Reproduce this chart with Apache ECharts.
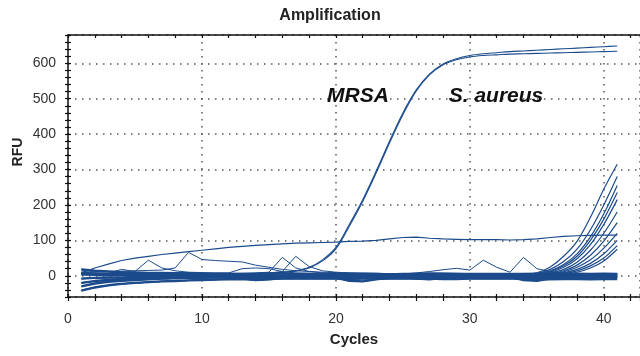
<!DOCTYPE html>
<html>
<head>
<meta charset="utf-8">
<script src="https://cdn.jsdelivr.net/npm/echarts@6/dist/echarts.min.js"></script>
<style>
  html, body { margin: 0; padding: 0; background: #fff; }
  #chart { width: 640px; height: 356px; }
</style>
</head>
<body>
<div id="chart"></div>
<script>
// cycle numbers (x)
var cycles = [1,2,3,4,5,6,7,8,9,10,11,12,13,14,15,16,17,18,19,20,21,22,23,24,25,26,27,28,29,30,31,32,33,34,35,36,37,38,39,40,41];

// MRSA replicates (sigmoid)
var mrsaA = [10,8,7,6,6,5,5,5,5,5,5,6,6,7,8,10,14,24,45,80,145,215,295,380,460,525,570,598,613,622,627,630,633,635,637,639,641,643,645,647,649];
var mrsaB = [8,7,6,5,5,5,4,4,5,5,5,5,6,6,7,9,13,22,42,76,140,210,290,375,455,522,568,596,610,618,622,624,626,627,628,629,630,631,632,633,634];

// slowly drifting curve near 100
var drift = [8,22,33,43,50,55,60,64,68,72,76,80,83,86,88,90,92,93,94,95,97,98,100,104,108,109,106,104,103,102,102,102,101,102,104,108,111,113,114,115,115];

// noisy curves with spikes
var spike1 = [14,12,12,13,14,15,16,22,66,46,43,41,39,30,24,18,14,12,10,9,8,8,7,6,6,7,8,8,7,6,6,5,5,5,6,5,5,6,5,5,5];
var spike2 = [10,8,7,18,12,44,22,14,10,9,8,8,20,22,20,12,8,7,6,6,5,5,4,4,4,5,5,4,4,4,4,4,3,3,4,4,3,3,4,3,3];
var spike3 = [6,5,5,5,5,5,5,5,6,6,6,6,7,8,10,52,22,12,8,6,5,5,5,5,5,5,6,6,6,5,5,5,5,5,5,5,5,5,5,5,5];
var spike4 = [4,4,4,4,4,4,4,4,4,5,5,5,5,6,8,12,55,26,14,10,8,6,5,5,5,5,5,5,5,5,5,5,5,5,5,5,5,5,5,5,5];
var spike5 = [2,2,2,2,2,2,2,2,2,2,2,2,2,2,2,2,2,2,2,2,2,3,3,4,5,8,12,17,21,16,44,24,10,52,20,12,8,6,5,5,5];

// flat negative / baseline curves (the thick band)
var base1 = [18,14,12,10,9,8,8,7,7,6,6,6,5,5,6,6,5,5,5,6,5,5,5,4,5,5,6,5,5,5,5,5,5,5,6,5,5,6,5,6,5];
var base2 = [5,3,2,2,1,1,1,0,0,0,1,1,0,0,1,0,0,1,1,0,0,1,0,0,0,1,0,0,1,0,0,0,0,0,0,1,0,0,1,0,0];
var base3 = [-8,-6,-5,-5,-4,-4,-3,-3,-3,-2,-2,-2,-2,-1,-1,-1,-1,-1,-2,-2,-1,-1,-1,-2,-2,-1,-1,-2,-2,-2,-1,-1,-1,-2,-2,-3,-2,-2,-3,-2,-2];
var base4 = [-20,-15,-12,-10,-9,-8,-7,-6,-6,-5,-5,-5,-4,-4,-4,-4,-3,-3,-3,-4,-4,-4,-3,-3,-4,-4,-4,-3,-3,-3,-3,-3,-3,-4,-4,-5,-4,-4,-5,-4,-4];
var base5 = [-42,-33,-27,-23,-20,-18,-16,-15,-13,-12,-11,-10,-10,-9,-9,-8,-8,-8,-8,-8,-9,-8,-8,-8,-8,-8,-8,-9,-9,-8,-8,-8,-8,-9,-9,-10,-9,-9,-10,-9,-9];
var base6 = [-30,-22,-17,-14,-12,-10,-8,-7,-6,-5,-4,-3,-8,-12,-10,-6,-4,-3,-2,-6,-14,-16,-10,-6,-3,-8,-10,-6,-3,-2,-3,-2,-2,-12,-14,-8,-4,-3,-3,-3,-3];

// S. aureus late rise, cycles 34..41
var saTail1 = [3,8,25,55,97,165,245,315];
var saTail2 = [2,6,18,40,75,130,200,280];
var saTail3 = [2,5,14,32,62,110,175,255];
var saTail4 = [1,4,12,28,55,100,160,235];
var saTail5 = [1,3,10,24,48,88,145,215];
var saTail6 = [0,3,8,18,38,72,120,180];
var saTail7 = [0,2,6,14,30,58,98,150];
var saTail8 = [0,2,5,11,24,45,78,120];
var saTail9 = [0,1,3,8,18,35,62,100];
var saTail10 = [0,0,2,6,14,28,50,85];
var saTail11 = [0,0,1,4,10,22,42,75];

var lineColor = '#1c4b8c';

var chart = {
    instance : null,

    init : function () {
        chart.instance = echarts.init(document.getElementById('chart'), null, {renderer: 'canvas'});
        chart.instance.setOption(chart.buildOption());
    },

    pairs : function (values) {
        var res = [];
        for (var i = 0; i < values.length; i++) {
            res.push([cycles[i], values[i]]);
        }
        return res;
    },

    lineSeries : function (values, width, smooth) {
        return {
            type: 'line',
            data: chart.pairs(values),
            showSymbol: false,
            symbol: 'none',
            silent: true,
            smooth: smooth || false,
            lineStyle: { color: lineColor, width: width || 1.2 }
        };
    },

    buildSeries : function () {
        var series = [];
        var bases = [base1, base2, base3, base4, base5, base6];
        var tails = [saTail1, saTail2, saTail3, saTail4, saTail5, saTail6, saTail7, saTail8, saTail9, saTail10, saTail11];
        // baseline band
        for (var i = 0; i < bases.length; i++) {
            series.push(chart.lineSeries(bases[i], 2.4));
        }
        // S. aureus curves (flat start + late rise)
        for (var j = 0; j < tails.length; j++) {
            var early = bases[j % bases.length].slice(0, 33);
            series.push(chart.lineSeries(early.concat(tails[j]), 1.2, 0.3));
        }
        series.push(chart.lineSeries(spike1, 1));
        series.push(chart.lineSeries(spike2, 1));
        series.push(chart.lineSeries(spike3, 1));
        series.push(chart.lineSeries(spike4, 1));
        series.push(chart.lineSeries(spike5, 1));
        series.push(chart.lineSeries(drift, 1.2));
        series.push(chart.lineSeries(mrsaA, 1.1, 0.35));
        series.push(chart.lineSeries(mrsaB, 1.1, 0.35));
        return series;
    },

    buildOption : function () {
        var axisColor = '#111';
        var gridLine = { show: true, lineStyle: { color: '#555', width: 1.5, type: [1.5, 5.5] } };
        var font = 'Arial, "Liberation Sans", sans-serif';
        var xMax = 42.7, yMin = -60, yMax = 680;
        return {
            animation: false,
            backgroundColor: '#fff',
            grid: { left: 68, top: 35, right: 0, bottom: 59, containLabel: false },
            xAxis: [
                {   // labels + grid lines
                    type: 'value', position: 'bottom', min: 0, max: xMax, interval: 10,
                    axisLine: { show: false, onZero: false },
                    axisTick: { show: false },
                    axisLabel: { fontSize: 14, color: '#333', margin: 15, fontFamily: font, showMaxLabel: false },
                    splitLine: gridLine
                },
                {
                    type: 'value', position: 'bottom', min: 0, max: xMax, interval: 2,
                    axisLine: { show: true, onZero: false, lineStyle: { color: axisColor, width: 1.5 } },
                    axisTick: { show: true, length: 4, lineStyle: { color: axisColor, width: 1.2 } },
                    axisLabel: { show: false },
                    splitLine: { show: false }
                },
                {
                    type: 'value', position: 'bottom', min: 0, max: xMax, interval: 2,
                    axisLine: { show: false, onZero: false },
                    axisTick: { show: true, inside: true, length: 3, lineStyle: { color: axisColor, width: 1.2 } },
                    axisLabel: { show: false },
                    splitLine: { show: false }
                },
                {
                    type: 'value', position: 'top', min: 0, max: xMax, interval: 2,
                    axisLine: { show: true, onZero: false, lineStyle: { color: axisColor, width: 1.5 } },
                    axisTick: { show: true, inside: true, length: 3, lineStyle: { color: axisColor, width: 1.2 } },
                    axisLabel: { show: false },
                    splitLine: { show: false }
                }
            ],
            yAxis: [
                {   // labels + grid lines
                    type: 'value', position: 'left', min: yMin, max: yMax, splitNumber: 7,
                    axisLine: { show: false },
                    axisTick: { show: false },
                    axisLabel: { fontSize: 14, color: '#333', margin: 12, fontFamily: font, showMinLabel: false, showMaxLabel: false },
                    splitLine: gridLine
                },
                {
                    type: 'value', position: 'left', min: yMin, max: yMax, interval: 20,
                    axisLine: { show: true, onZero: false, lineStyle: { color: axisColor, width: 1.5 } },
                    axisTick: { show: true, length: 3, lineStyle: { color: axisColor, width: 1.2 } },
                    axisLabel: { show: false },
                    splitLine: { show: false }
                },
                {
                    type: 'value', position: 'left', min: yMin, max: yMax, interval: 20,
                    axisLine: { show: false, onZero: false },
                    axisTick: { show: true, inside: true, length: 3, lineStyle: { color: axisColor, width: 1.2 } },
                    axisLabel: { show: false },
                    splitLine: { show: false }
                }
            ],
            graphic: [
                { type: 'text', x: 330, y: 16, style: { text: 'Amplification', font: 'bold 16px ' + font, fill: '#222', align: 'center', verticalAlign: 'middle' } },
                { type: 'text', x: 18, y: 152, rotation: Math.PI / 2, style: { text: 'RFU', font: 'bold 14px ' + font, fill: '#222', align: 'center', verticalAlign: 'middle' } },
                { type: 'text', x: 354, y: 340, style: { text: 'Cycles', font: 'bold 15px ' + font, fill: '#222', align: 'center', verticalAlign: 'middle' } },
                { type: 'text', x: 358, y: 96, z: 10, style: { text: 'MRSA', font: 'italic bold 21px ' + font, fill: '#111', align: 'center', verticalAlign: 'middle' } },
                { type: 'text', x: 496, y: 96, z: 10, style: { text: 'S. aureus', font: 'italic bold 21px ' + font, fill: '#111', align: 'center', verticalAlign: 'middle' } }
            ],
            series: chart.buildSeries()
        };
    }
};

chart.init();
</script>
</body>
</html>
